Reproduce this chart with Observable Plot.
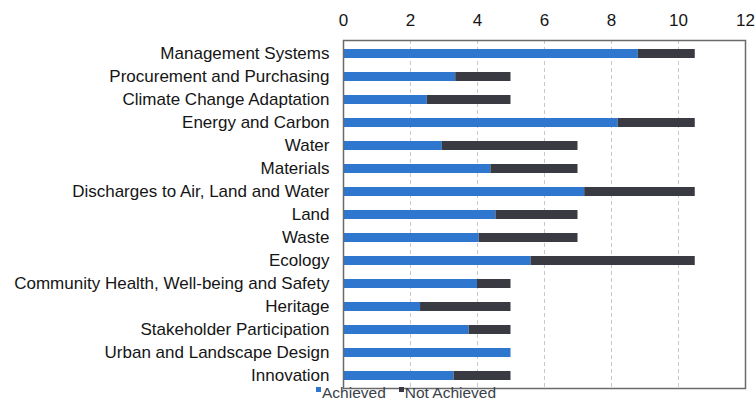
<!DOCTYPE html>
<html>
<head>
<meta charset="utf-8">
<script src="https://cdn.jsdelivr.net/npm/d3@7"></script>
<script src="https://cdn.jsdelivr.net/npm/@observablehq/plot@0.6"></script>
<style>
  html, body { margin: 0; padding: 0; background: #fff; }
  #wrap { position: relative; width: 755px; height: 401px; overflow: hidden; font-family: "Liberation Sans", Arial, sans-serif; }
  #legend { position: absolute; left: 316px; top: 384px; font-size: 15.5px; color: #3a3f4a; display: flex; gap: 13px; white-space: nowrap; }
  #legend span.sw { display: inline-block; width: 5px; height: 5px; margin-right: 1px; vertical-align: top; margin-top: 3px; }
</style>
</head>
<body>
<div id="wrap"></div>
<script>
const categories = [
  "Management Systems",
  "Procurement and Purchasing",
  "Climate Change Adaptation",
  "Energy and Carbon",
  "Water",
  "Materials",
  "Discharges to Air, Land and Water",
  "Land",
  "Waste",
  "Ecology",
  "Community Health, Well-being and Safety",
  "Heritage",
  "Stakeholder Participation",
  "Urban and Landscape Design",
  "Innovation"
];
const achieved    = [8.8, 3.35, 2.5, 8.2, 2.95, 4.4, 7.2, 4.55, 4.05, 5.6, 4.0, 2.3, 3.75, 5.0, 3.3];
const notAchieved = [1.7, 1.65, 2.5, 2.3, 4.05, 2.6, 3.3, 2.45, 2.95, 4.9, 1.0, 2.7, 1.25, 0.0, 1.7];
const seriesNames = ["Achieved", "Not Achieved"];
const seriesColors = ["#2f76cf", "#3a3a42"];
const xTicks = [0, 2, 4, 6, 8, 10, 12];
const gridTicks = [2, 4, 6, 8, 10];

const rows = [];
categories.forEach((c, i) => {
  rows.push({category: c, status: seriesNames[0], value: achieved[i]});
  rows.push({category: c, status: seriesNames[1], value: notAchieved[i]});
});

const chart = Plot.plot({
  width: 755,
  height: 401,
  marginTop: 40,
  marginBottom: 13,
  marginLeft: 343,
  marginRight: 10,
  style: {fontFamily: "'Liberation Sans', Arial, sans-serif", fontSize: "17px", color: "#151515", background: "#fff"},
  x: {domain: [0, 12], axis: "top", ticks: xTicks, tickSize: 0, tickPadding: 15, label: null},
  y: {domain: categories, paddingInner: 0.63, paddingOuter: 0.29, tickSize: 0, tickPadding: 14, label: null},
  color: {domain: seriesNames, range: seriesColors},
  marks: [
    Plot.ruleX(gridTicks, {stroke: "#c8c8c8", strokeDasharray: "4,3"}),
    Plot.barX(rows, Plot.stackX({y: "category", x: "value", fill: "status", order: seriesNames})),
    Plot.frame({stroke: "#6a6a6a", strokeWidth: 1.5})
  ]
});
document.getElementById("wrap").appendChild(chart);

const legend = document.createElement("div");
legend.id = "legend";
seriesNames.forEach((n, i) => {
  const item = document.createElement("div");
  const sw = document.createElement("span");
  sw.className = "sw";
  sw.style.background = seriesColors[i];
  item.appendChild(sw);
  item.appendChild(document.createTextNode(n));
  legend.appendChild(item);
});
document.getElementById("wrap").appendChild(legend);
</script>
</body>
</html>
